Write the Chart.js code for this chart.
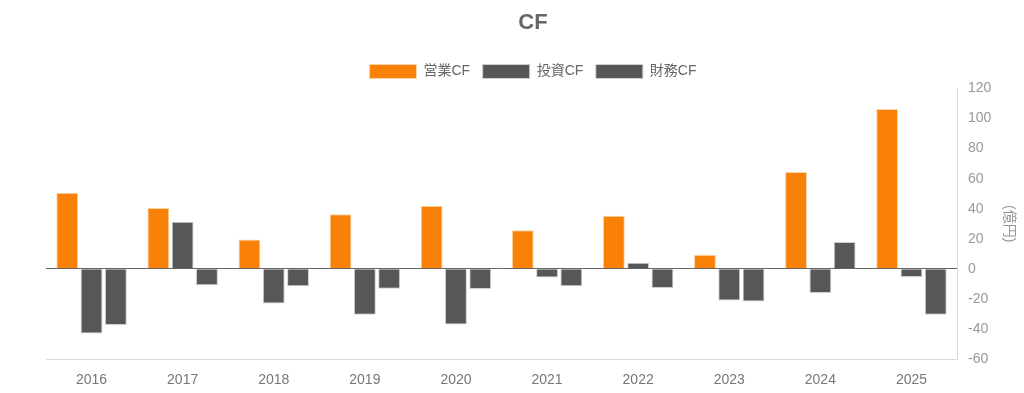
<!DOCTYPE html>
<html>
<head>
<meta charset="utf-8">
<script src="https://cdn.jsdelivr.net/npm/chart.js@4/dist/chart.umd.min.js"></script>
<style>
html,body{margin:0;padding:0;background:#fff;overflow:hidden;}
canvas{display:block;}
</style>
</head>
<body>
<canvas id="c" width="1024" height="393"></canvas>
<script>
const years = ['2016','2017','2018','2019','2020','2021','2022','2023','2024','2025'];
const operatingCF = [50.6, 40.5, 19.6, 36.3, 41.9, 25.6, 35.4, 9.4, 64.4, 106.4];
const investingCF = [-43.1, 31.4, -23.0, -30.6, -37.1, -5.8, 4.0, -21.0, -16.1, -5.4];
const financingCF = [-37.3, -11.0, -11.6, -13.2, -13.4, -11.6, -12.7, -21.7, 17.8, -30.6];
const seriesNames = ['営業CF', '投資CF', '財務CF'];
const yTicks = {min: -60, max: 120, step: 20};

const FONT = "'Liberation Sans', Arial, 'Noto Sans CJK JP', sans-serif";
Chart.defaults.font.family = FONT;
Chart.defaults.color = '#777';

new Chart(document.getElementById('c'), {
  type: 'bar',
  data: {
    labels: years,
    datasets: [
      {label: seriesNames[0], data: operatingCF, backgroundColor: '#F98108', borderColor: '#FDD3A8', borderWidth: 1},
      {label: seriesNames[1], data: investingCF, backgroundColor: '#575757', borderColor: '#CFCFCF', borderWidth: 1},
      {label: seriesNames[2], data: financingCF, backgroundColor: '#575757', borderColor: '#CFCFCF', borderWidth: 1}
    ]
  },
  options: {
    responsive: false,
    animation: false,
    devicePixelRatio: 1,
    layout: {padding: {left: 46, right: 4, top: 0, bottom: 4}},
    plugins: {
      title: {
        display: true, text: 'CF', color: '#666',
        font: {size: 22, weight: 'bold', family: FONT},
        padding: {top: 10, bottom: 15.6}
      },
      legend: {
        labels: {boxWidth: 47, boxHeight: 14, color: '#666', font: {size: 14}, padding: 12.5}
      },
      tooltip: {enabled: false}
    },
    scales: {
      x: {
        grid: {display: false, drawTicks: false},
        border: {display: true, color: '#DDDDDD'},
        ticks: {color: '#777', font: {size: 14}, padding: 13},
        afterFit: s => { s.height = 30; }
      },
      y: {
        position: 'right',
        min: yTicks.min, max: yTicks.max,
        grid: {
          drawTicks: false,
          color: ctx => (ctx.tick && ctx.tick.value === 0) ? '#666666' : 'rgba(0,0,0,0)',
          lineWidth: 1
        },
        border: {display: true, color: '#DDDDDD'},
        ticks: {stepSize: yTicks.step, color: '#999', font: {size: 14}, padding: 11},
        title: {display: true, text: '(億円)', color: '#999', font: {size: 14}, padding: {top: 3, bottom: 9}},
        afterFit: s => { s.width = 63; }
      }
    }
  }
});
</script>
</body>
</html>
